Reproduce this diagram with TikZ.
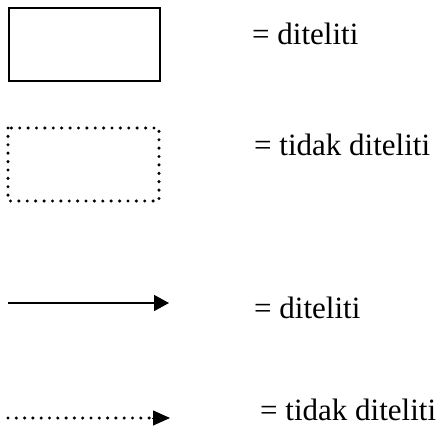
\documentclass[tikz,border=0pt]{standalone}
\usepackage{fontspec}
\setmainfont{Liberation Serif}
\usetikzlibrary{arrows.meta}
\begin{document}
\begin{tikzpicture}[x=1pt,y=-1pt,
  lbl/.style={anchor=base west,inner sep=0pt,font=\fontsize{31}{37}\selectfont},
  solidbox/.style={draw,line width=2pt,minimum width=151pt,minimum height=73pt,inner sep=0pt,anchor=north west},
  dotbox/.style={line width=3.4pt,line cap=round,dash pattern=on 0pt off 8.39pt},
  dotline/.style={line width=3.4pt,line cap=round,dash pattern=on 0pt off 8.3pt},
  solidline/.style={line width=1.6pt}]
\useasboundingbox (0,0) rectangle (445,439);
\node[solidbox] (box1) at (8,7) {};
\coordinate (d1) at (8,128);
\coordinate (d2) at (159,201);
\draw[dotbox] (d1) rectangle (d2);
\coordinate (a1s) at (8,303);
\coordinate (a1e) at (169,303);
\draw[solidline,-{Triangle[length=15pt,width=16pt]}] (a1s) -- (a1e);
\coordinate (a2s) at (8,418);
\coordinate (a2m) at (150,418);
\coordinate (a2e) at (170,418);
\draw[dotline] (a2s) -- (a2m);
\draw[line width=1pt,-{Triangle[length=17pt,width=15pt]}] (a2m) ++(2,0) coordinate (a2h) -- (a2e);
\node[lbl] (t1) at (252,45) {= diteliti};
\node[lbl] (t2) at (254,155) {= tidak diteliti};
\node[lbl] (t3) at (254,318) {= diteliti};
\node[lbl] (t4) at (260,420) {= tidak diteliti};
\end{tikzpicture}
\end{document}
